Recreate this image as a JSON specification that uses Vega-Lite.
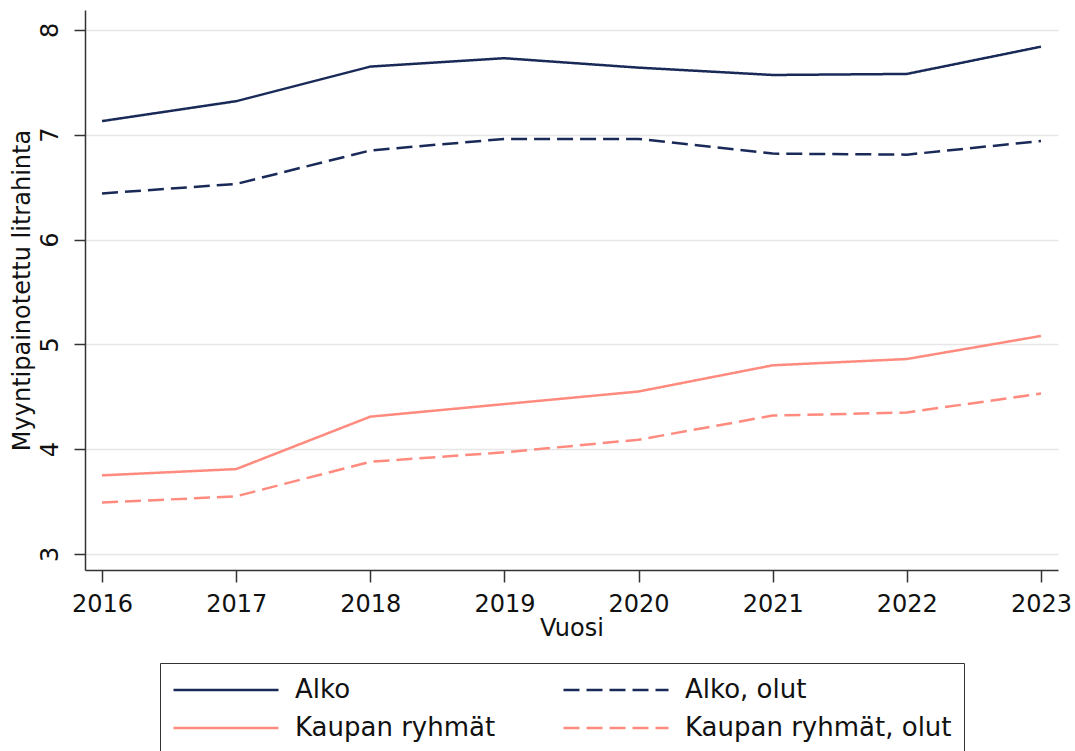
{
  "$schema": "https://vega.github.io/schema/vega-lite/v6.json",
  "width": 973,
  "height": 560,
  "autosize": "none",
  "padding": {"left": 85, "top": 10, "right": 17, "bottom": 181},
  "background": "white",
  "config": {
    "view": {"stroke": null},
    "font": "DejaVu Sans",
    "axis": {
      "labelFont": "DejaVu Sans",
      "titleFont": "DejaVu Sans",
      "labelFontSize": 24,
      "titleFontSize": 24,
      "titleFontWeight": "normal",
      "labelColor": "#111",
      "titleColor": "#111",
      "domainColor": "#333",
      "domainWidth": 1.5,
      "tickColor": "#333",
      "tickWidth": 1.5
    }
  },
  "data": {
    "values": [
      {"vuosi": 2016, "sarja": "Alko", "hinta": 7.13},
      {"vuosi": 2017, "sarja": "Alko", "hinta": 7.32},
      {"vuosi": 2018, "sarja": "Alko", "hinta": 7.65},
      {"vuosi": 2019, "sarja": "Alko", "hinta": 7.73},
      {"vuosi": 2020, "sarja": "Alko", "hinta": 7.64},
      {"vuosi": 2021, "sarja": "Alko", "hinta": 7.57},
      {"vuosi": 2022, "sarja": "Alko", "hinta": 7.58},
      {"vuosi": 2023, "sarja": "Alko", "hinta": 7.84},
      {"vuosi": 2016, "sarja": "Alko, olut", "hinta": 6.44},
      {"vuosi": 2017, "sarja": "Alko, olut", "hinta": 6.53},
      {"vuosi": 2018, "sarja": "Alko, olut", "hinta": 6.85},
      {"vuosi": 2019, "sarja": "Alko, olut", "hinta": 6.96},
      {"vuosi": 2020, "sarja": "Alko, olut", "hinta": 6.96},
      {"vuosi": 2021, "sarja": "Alko, olut", "hinta": 6.82},
      {"vuosi": 2022, "sarja": "Alko, olut", "hinta": 6.81},
      {"vuosi": 2023, "sarja": "Alko, olut", "hinta": 6.94},
      {"vuosi": 2016, "sarja": "Kaupan ryhmät", "hinta": 3.75},
      {"vuosi": 2017, "sarja": "Kaupan ryhmät", "hinta": 3.81},
      {"vuosi": 2018, "sarja": "Kaupan ryhmät", "hinta": 4.31},
      {"vuosi": 2019, "sarja": "Kaupan ryhmät", "hinta": 4.43},
      {"vuosi": 2020, "sarja": "Kaupan ryhmät", "hinta": 4.55},
      {"vuosi": 2021, "sarja": "Kaupan ryhmät", "hinta": 4.80},
      {"vuosi": 2022, "sarja": "Kaupan ryhmät", "hinta": 4.86},
      {"vuosi": 2023, "sarja": "Kaupan ryhmät", "hinta": 5.08},
      {"vuosi": 2016, "sarja": "Kaupan ryhmät, olut", "hinta": 3.49},
      {"vuosi": 2017, "sarja": "Kaupan ryhmät, olut", "hinta": 3.55},
      {"vuosi": 2018, "sarja": "Kaupan ryhmät, olut", "hinta": 3.88},
      {"vuosi": 2019, "sarja": "Kaupan ryhmät, olut", "hinta": 3.97},
      {"vuosi": 2020, "sarja": "Kaupan ryhmät, olut", "hinta": 4.09},
      {"vuosi": 2021, "sarja": "Kaupan ryhmät, olut", "hinta": 4.32},
      {"vuosi": 2022, "sarja": "Kaupan ryhmät, olut", "hinta": 4.35},
      {"vuosi": 2023, "sarja": "Kaupan ryhmät, olut", "hinta": 4.53}
    ]
  },
  "mark": {"type": "line", "strokeWidth": 2.5, "clip": false},
  "encoding": {
    "x": {
      "field": "vuosi",
      "type": "quantitative",
      "scale": {"domain": [2015.873, 2023.127], "nice": false, "zero": false},
      "axis": {
        "title": "Vuosi",
        "values": [2016, 2017, 2018, 2019, 2020, 2021, 2022, 2023],
        "format": "d",
        "grid": false,
        "tickSize": 12,
        "labelPadding": 10,
        "titlePadding": 0,
        "labelFlush": false,
        "labelOverlap": false
      }
    },
    "y": {
      "field": "hinta",
      "type": "quantitative",
      "scale": {"domain": [2.847, 8.19], "nice": false, "zero": false},
      "axis": {
        "title": "Myyntipainotettu litrahinta",
        "values": [3, 4, 5, 6, 7, 8],
        "grid": true,
        "gridColor": "#e6e6e6",
        "gridWidth": 1.5,
        "tickSize": 11,
        "labelAngle": -90,
        "labelAlign": "center",
        "labelBaseline": "bottom",
        "labelPadding": 12,
        "titlePadding": 4,
        "labelFlush": false,
        "labelOverlap": false
      }
    },
    "color": {
      "field": "sarja",
      "type": "nominal",
      "scale": {
        "domain": ["Alko", "Alko, olut", "Kaupan ryhmät", "Kaupan ryhmät, olut"],
        "range": ["#1a2a58", "#1a2a58", "#ff8a7e", "#ff8a7e"]
      },
      "legend": {
        "title": null,
        "orient": "none",
        "legendX": 75,
        "legendY": 653,
        "direction": "horizontal",
        "columns": 2,
        "symbolType": "stroke",
        "symbolSize": 11025,
        "symbolStrokeWidth": 2.5,
        "clipHeight": 30,
        "labelOffset": 15,
        "labelFont": "DejaVu Sans",
        "labelFontSize": 26,
        "labelColor": "#111",
        "labelLimit": 400,
        "columnPadding": 66,
        "rowPadding": 8,
        "padding": 12,
        "strokeColor": "#333",
        "fillColor": "white"
      }
    },
    "strokeDash": {
      "field": "sarja",
      "type": "nominal",
      "scale": {
        "domain": ["Alko", "Alko, olut", "Kaupan ryhmät", "Kaupan ryhmät, olut"],
        "range": [[1, 0], [16, 7], [1, 0], [16, 7]]
      },
      "legend": {
        "title": null,
        "orient": "none",
        "legendX": 75,
        "legendY": 653,
        "direction": "horizontal",
        "columns": 2,
        "symbolType": "stroke",
        "symbolSize": 11025,
        "symbolStrokeWidth": 2.5,
        "clipHeight": 30,
        "labelOffset": 15,
        "labelFont": "DejaVu Sans",
        "labelFontSize": 26,
        "labelColor": "#111",
        "labelLimit": 400,
        "columnPadding": 66,
        "rowPadding": 8,
        "padding": 12,
        "strokeColor": "#333",
        "fillColor": "white"
      }
    }
  }
}
